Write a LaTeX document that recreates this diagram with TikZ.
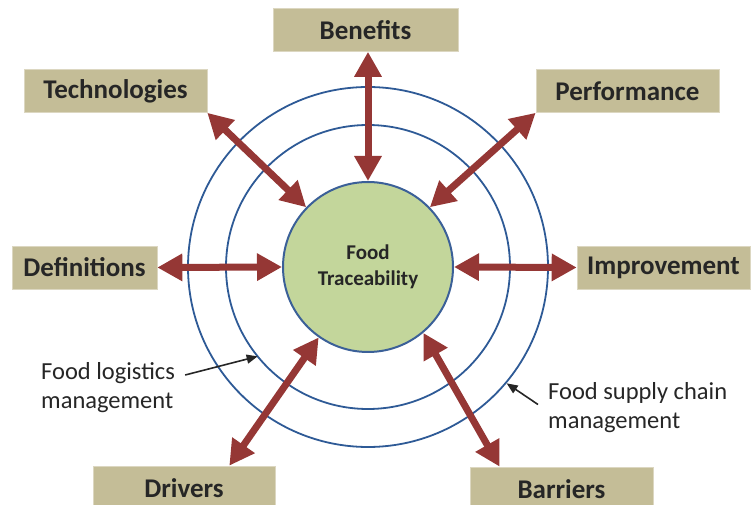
\documentclass[tikz,border=0pt]{standalone}
\usepackage{fontspec}
\setmainfont{Carlito}
\usetikzlibrary{arrows.meta}
\definecolor{boxtan}{HTML}{C4BD97}
\definecolor{arrowred}{HTML}{953735}
\definecolor{circgreen}{HTML}{C3D69B}
\definecolor{circblue}{HTML}{3B6098}
\definecolor{ringblue}{HTML}{2E5A96}
\begin{document}
\begin{tikzpicture}[x=1pt, y=1pt,
    box/.style = {fill=boxtan, draw=boxtan!60!white, line width=0.6pt, minimum height=43pt, inner sep=0pt, text=black!85, font=\fontsize{27}{30}\selectfont\bfseries},
    dbl/.style = {draw=arrowred, line width=7pt, {Triangle[width=26pt,length=25pt]}-{Triangle[width=26pt,length=25pt]}},
    ring/.style = {draw=ringblue, line width=1.8pt},
    note/.style = {align=left, inner sep=0pt, text=black!85, font=\fontsize{24.5}{29}\selectfont},
    pointer/.style = {draw=black!85, line width=1.6pt, -{Triangle[length=11pt,width=9pt]}}]
    \useasboundingbox (0,0) rectangle (753,504);
    \clip (0,0) rectangle (753,504);
    % rings round the centre
    \draw[ring] (368,237) circle (142pt);
    \draw[ring] (368,237) circle (180pt);
    \node[circle, fill=circgreen, draw=circblue, line width=2pt, minimum size=170pt, inner sep=0pt, align=center, text=black!85, font=\fontsize{21}{26}\selectfont\bfseries] (ft) at (368,237) {Food\\Traceability};
    % boxes
    \node[box, minimum width=185pt] (ben) at (365.5,474) {Benefits};
    \node[box, minimum width=183pt] (tec) at (115.5,413) {Technologies};
    \node[box, minimum width=183pt] (per) at (627.5,413) {Performance};
    \node[box, minimum width=145pt] (def) at (84.5,236.5) {Definitions};
    \node[box, minimum width=173pt] (imp) at (663.5,236.5) {Improvement};
    \node[box, minimum width=182pt, minimum height=44pt] (drv) at (184,16) {Drivers};
    \node[box, minimum width=183pt, minimum height=44pt] (bar) at (561.5,15) {Barriers};
    % double arrows
    \draw[dbl] (ft.north |- ben.south) -- (ft.north);
    \draw[dbl] (tec.south east) -- (ft.136);
    \draw[dbl] (per.south west) -- (ft.44);
    \draw[dbl] (def.east) -- (ft.west);
    \draw[dbl] (imp.west) -- (ft.east);
    \draw[dbl] ([xshift=-46pt]drv.north east) -- (ft.-125);
    \draw[dbl] ([xshift=30pt]bar.north west) -- (ft.-50);
    % notes
    \node[note, anchor=west] (fl) at (41,116.5) {Food logistics\\management};
    \node[note, anchor=west] (fsc) at (548,96.5) {Food supply chain\\management};
    \draw[pointer] ([shift={(10pt,12.5pt)}]fl.east) -- ([shift={(219:142pt)}]ft.center);
    \draw[pointer] ([shift={(-10pt,3pt)}]fsc.west) -- ([shift={(-40:181pt)}]ft.center);
\end{tikzpicture}
\end{document}
